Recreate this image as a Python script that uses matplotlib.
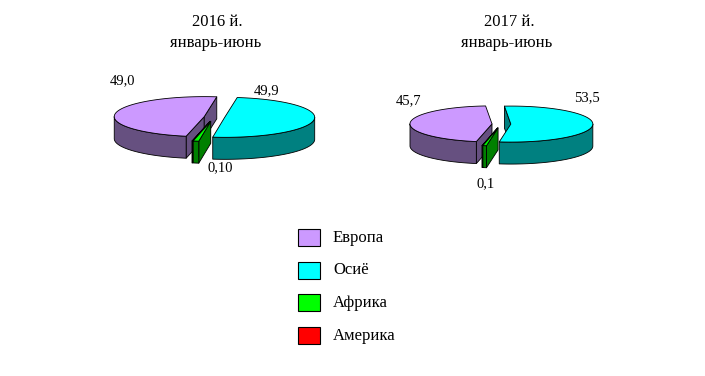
import numpy as np
import matplotlib
matplotlib.use("Agg")
import matplotlib.pyplot as plt
from matplotlib.patches import Polygon, Rectangle

# data
regions = ["Европа", "Осиё", "Африка", "Америка"]
share_2016 = [49.0, 49.9, 1.0, 0.10]
share_2017 = [45.7, 53.5, 0.7, 0.1]
labels_2016 = ["49,0", "49,9", "", "0,10"]
labels_2017 = ["45,7", "53,5", "", "0,1"]
years = ["2016 й.", "2017 й."]
period = "январь-июнь"

top_colors = ["#CC99FF", "#00FFFF", "#00FF00", "#FF0000"]
side_colors = ["#665080", "#008080", "#008000", "#800000"]
explode = [0.11, 0.12, 0.22, 0.22]

plt.rcParams['font.family'] = ['Liberation Serif', 'DejaVu Serif']


def rim(c, rx, ry, theta, drop=0.0):
    t = np.radians(theta)
    return np.column_stack([c[0] + rx * np.cos(t), c[1] - ry * np.sin(t) + drop])


def draw_pie(ax, values, start, cx, cy, rx, ry, depth):
    spans = np.array(values) / np.sum(values) * 360
    ends = start - np.cumsum(spans)
    starts = ends + spans
    # europe first, then the small front ones, osiyo last
    order = [0, 3, 2, 1]
    for i in order:
        a0, a1 = ends[i], starts[i]
        mid = np.radians((a0 + a1) / 2)
        c = (cx + explode[i] * rx * np.cos(mid), cy - explode[i] * ry * np.sin(mid))
        kw = dict(edgecolor="black", linewidth=0.6, joinstyle="round")
        # radial side faces
        for a, vis in ((a1, np.cos(np.radians(a1)) < 0), (a0, np.cos(np.radians(a0)) > 0)):
            if vis:
                p = rim(c, rx, ry, [a])[0]
                quad = [c, p, (p[0], p[1] + depth), (c[0], c[1] + depth)]
                ax.add_patch(Polygon(quad, closed=True, facecolor=side_colors[i], **kw))
        # outer wall, only the front part
        for k in range(-2, 3):
            lo = max(a0, 180 + 360 * k)
            hi = min(a1, 360 + 360 * k)
            if lo < hi:
                th = np.linspace(lo, hi, 80)
                wall = np.vstack([rim(c, rx, ry, th), rim(c, rx, ry, th[::-1], depth)])
                ax.add_patch(Polygon(wall, closed=True, facecolor=side_colors[i], **kw))
        # top face
        th = np.linspace(a0, a1, 200)
        top = np.vstack([[c], rim(c, rx, ry, th)])
        ax.add_patch(Polygon(top, closed=True, facecolor=top_colors[i], **kw))


fig = plt.figure(figsize=(7.05, 3.76), dpi=100)
ax = fig.add_axes([0, 0, 1, 1])
ax.set_xlim(0, 705)
ax.set_ylim(376, 0)
ax.axis("off")

draw_pie(ax, share_2016, 258.4, 214, 117, 90, 20, 22)
draw_pie(ax, share_2017, 259.0, 501, 124, 82, 18, 22)

# titles
ax.text(217, 22, years[0], ha="center", va="center", fontsize=12)
ax.text(216, 43, period, ha="center", va="center", fontsize=12)
ax.text(509, 22, years[1], ha="center", va="center", fontsize=12)
ax.text(507, 43, period, ha="center", va="center", fontsize=12)

# data labels
pos_2016 = [(123, 81), (267, 91), None, (220, 168)]
pos_2017 = [(408, 101), (587, 98), None, (486, 184)]
for lab, p in zip(labels_2016 + labels_2017, pos_2016 + pos_2017):
    if lab:
        ax.text(p[0], p[1], lab, ha="center", va="center", fontsize=10.5)

# legend
for k, name in enumerate(regions):
    y = 237.5 + k * 32.7
    ax.add_patch(Rectangle((298, y - 8.5), 22, 17, facecolor=top_colors[k],
                           edgecolor="black", linewidth=0.8))
    ax.text(333, y, name, ha="left", va="center", fontsize=12)

fig.savefig("out.png", dpi=100)
